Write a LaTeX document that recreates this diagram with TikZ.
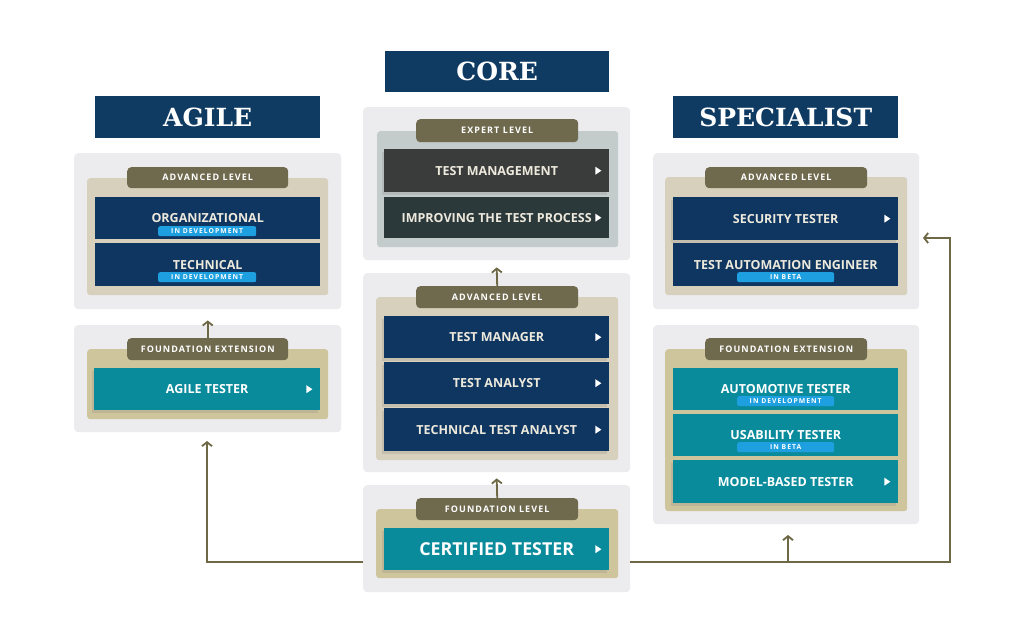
\documentclass[tikz,border=0pt]{standalone}
\usepackage{fontspec}
\setmainfont{Open Sans}
\newfontfamily\slab{DejaVu Serif}
\newfontfamily\tabf[LetterSpace=12]{Open Sans}
\newfontfamily\badgef[LetterSpace=15]{Open Sans}
\usetikzlibrary{arrows.meta,shadows}
\definecolor{panelgray}{HTML}{ECECEF}
\definecolor{beigeA}{HTML}{D6D0BC}
\definecolor{beigeF}{HTML}{CFC59D}
\definecolor{expgray}{HTML}{C3CCCB}
\definecolor{tabc}{HTML}{6F6A4E}
\definecolor{navyc}{HTML}{0E3660}
\definecolor{hdrc}{HTML}{0F3B63}
\definecolor{tealc}{HTML}{0A8B9B}
\definecolor{tmgray}{HTML}{3A3C3B}
\definecolor{ipgray}{HTML}{2C393B}
\definecolor{badgec}{HTML}{1E9FE0}
\definecolor{creamc}{HTML}{EDE9DD}
\definecolor{linec}{HTML}{6E6845}
\tikzset{
  panel/.style={fill=panelgray, rounded corners=4pt},
  inadv/.style={fill=beigeA, rounded corners=3pt},
  infound/.style={fill=beigeF, rounded corners=3pt},
  inexp/.style={fill=expgray, rounded corners=3pt},
  tabbox/.style={fill=tabc, rounded corners=4pt, text=white, font=\tabf\bfseries\fontsize{9}{10}\selectfont},
  navybox/.style={fill=navyc, text=creamc, font=\bfseries\fontsize{12.5}{14}\selectfont},
  tealbox/.style={fill=tealc, text=white, font=\bfseries\fontsize{12.5}{14}\selectfont},
  hdr/.style={fill=hdrc, text=white, font=\slab\bfseries\fontsize{25}{30}\selectfont},
  badge/.style={fill=badgec, text=white, rounded corners=2pt, font=\badgef\bfseries\fontsize{6.8}{7}\selectfont},
  shad/.style={drop shadow={shadow xshift=-2.5pt, shadow yshift=-3pt, opacity=0.22}},
  conn/.style={draw=linec, line width=1.8pt},
  tip/.style={-{Straight Barb[length=4pt,width=10pt]}},
}
\newcommand\R[7]{\node[#2,anchor=north west,inner sep=0pt,minimum width={(#5-#3)*1pt},minimum height={(#6-#4)*1pt}] (#1) at (#3,#4) {#7};}
\newcommand\tri[1]{\fill[white] ([xshift=-14pt,yshift=4pt]#1.east) -- ([xshift=-14pt,yshift=-4pt]#1.east) -- ([xshift=-8pt]#1.east) -- cycle;}
\begin{document}
\begin{tikzpicture}[x=1pt,y=-1pt]
\fill[white] (0,0) rectangle (1024,640);
\useasboundingbox (0,0) rectangle (1024,640);
% headers
\R{hagile}{hdr}{95}{96}{320}{138}{AGILE}
\R{hcore}{hdr}{385}{51}{609}{92}{CORE}
\R{hspec}{hdr}{673}{96}{898}{138}{SPECIALIST}
% AGILE advanced
\R{agadv}{panel}{74}{153}{341}{309}{}
\R{agadvin}{inadv}{87}{178}{328}{295}{}
\R{agadvtab}{tabbox}{127}{167}{288}{188}{ADVANCED LEVEL}
\R{org}{navybox}{95}{197}{320}{239}{ORGANIZATIONAL}
\R{tech}{navybox}{95}{243}{320}{286}{TECHNICAL}
\R{orgb}{badge}{158}{226}{256}{236}{IN DEVELOPMENT}
\R{techb}{badge}{158}{272}{256}{282}{IN DEVELOPMENT}
% AGILE foundation ext
\R{agfound}{panel}{74}{325}{341}{432}{}
\R{agfoundin}{infound}{87}{349}{328}{419}{}
\R{agfoundtab}{tabbox}{127}{338}{288}{360}{FOUNDATION EXTENSION}
\R{agt}{tealbox,shad}{94}{368}{320}{410}{AGILE TESTER}
\tri{agt}
% CORE expert
\R{coreexp}{panel}{363}{107}{630}{260}{}
\R{coreexpin}{inexp}{377}{131}{618}{247}{}
\R{coreexptab}{tabbox}{416}{119}{578}{142}{EXPERT LEVEL}
\R{tmg}{shad,fill=tmgray,text=creamc,font=\bfseries\fontsize{12.5}{14}\selectfont}{384}{149}{609}{192}{TEST MANAGEMENT}
\R{itp}{fill=ipgray,text=creamc,font=\bfseries\fontsize{12.5}{14}\selectfont}{384}{197}{609}{238}{IMPROVING THE TEST PROCESS}
\tri{tmg}\tri{itp}
% CORE advanced
\R{coreadv}{panel}{363}{273}{630}{472}{}
\R{coreadvin}{inadv}{376}{297}{618}{460}{}
\R{coreadvtab}{tabbox}{416}{286}{578}{308}{ADVANCED LEVEL}
\R{tm}{navybox,shad}{384}{316}{609}{358}{TEST MANAGER}
\R{ta}{navybox,shad}{384}{362}{609}{404}{TEST ANALYST}
\R{tta}{navybox,shad}{384}{408}{609}{451}{TECHNICAL TEST ANALYST}
\tri{tm}\tri{ta}\tri{tta}
% CORE foundation
\R{corefound}{panel}{363}{485}{630}{592}{}
\R{corefoundin}{infound}{376}{509}{618}{578}{}
\R{corefoundtab}{tabbox}{416}{498}{578}{520}{FOUNDATION LEVEL}
\R{ct}{tealbox,shad,font=\bfseries\fontsize{17.8}{20}\selectfont}{384}{528}{609}{570}{CERTIFIED TESTER}
\tri{ct}
% SPECIALIST advanced
\R{spadv}{panel}{653}{153}{919}{309}{}
\R{spadvin}{inadv}{665}{177}{907}{295}{}
\R{spadvtab}{tabbox}{705}{167}{867}{188}{ADVANCED LEVEL}
\R{sec}{navybox,shad}{673}{197}{898}{240}{SECURITY TESTER}
\R{tae}{navybox}{673}{243}{898}{286}{TEST AUTOMATION ENGINEER}
\R{taeb}{badge}{737}{272}{834}{282}{IN BETA}
\tri{sec}
% SPECIALIST foundation ext
\R{spfound}{panel}{653}{325}{919}{524}{}
\R{spfoundin}{infound}{665}{349}{907}{511}{}
\R{spfoundtab}{tabbox}{705}{338}{867}{360}{FOUNDATION EXTENSION}
\R{aut}{tealbox}{673}{368}{898}{410}{AUTOMOTIVE TESTER}
\R{usa}{tealbox}{673}{414}{898}{456}{USABILITY TESTER}
\R{mbt}{tealbox,shad}{673}{460}{898}{503}{MODEL-BASED TESTER}
\R{autb}{badge}{737}{396}{834}{406}{IN DEVELOPMENT}
\R{usab}{badge}{737}{442}{834}{452}{IN BETA}
\tri{mbt}
% connectors
\coordinate (yl) at (0,562);
\coordinate (agtip) at (207,441);
\coordinate (rc) at (950,562);
\coordinate (secin) at (923,238);
\coordinate (sjoin) at (788,562);
\coordinate (sptip) at (788,535);
\draw[conn,tip] (corefound.west |- yl) -| (agtip);
\draw[conn,tip] (corefound.east |- yl) -- (rc) |- (secin);
\draw[conn,tip] (sjoin) -- (sptip);
\draw[conn,tip] (agfoundtab.north) -- ([yshift=-11pt]agadv.south);
\draw[conn,tip] (coreadvtab.north) -- ([yshift=-7pt]coreexp.south);
\draw[conn,tip] (corefoundtab.north) -- ([yshift=-6pt]coreadv.south);
\end{tikzpicture}
\end{document}
